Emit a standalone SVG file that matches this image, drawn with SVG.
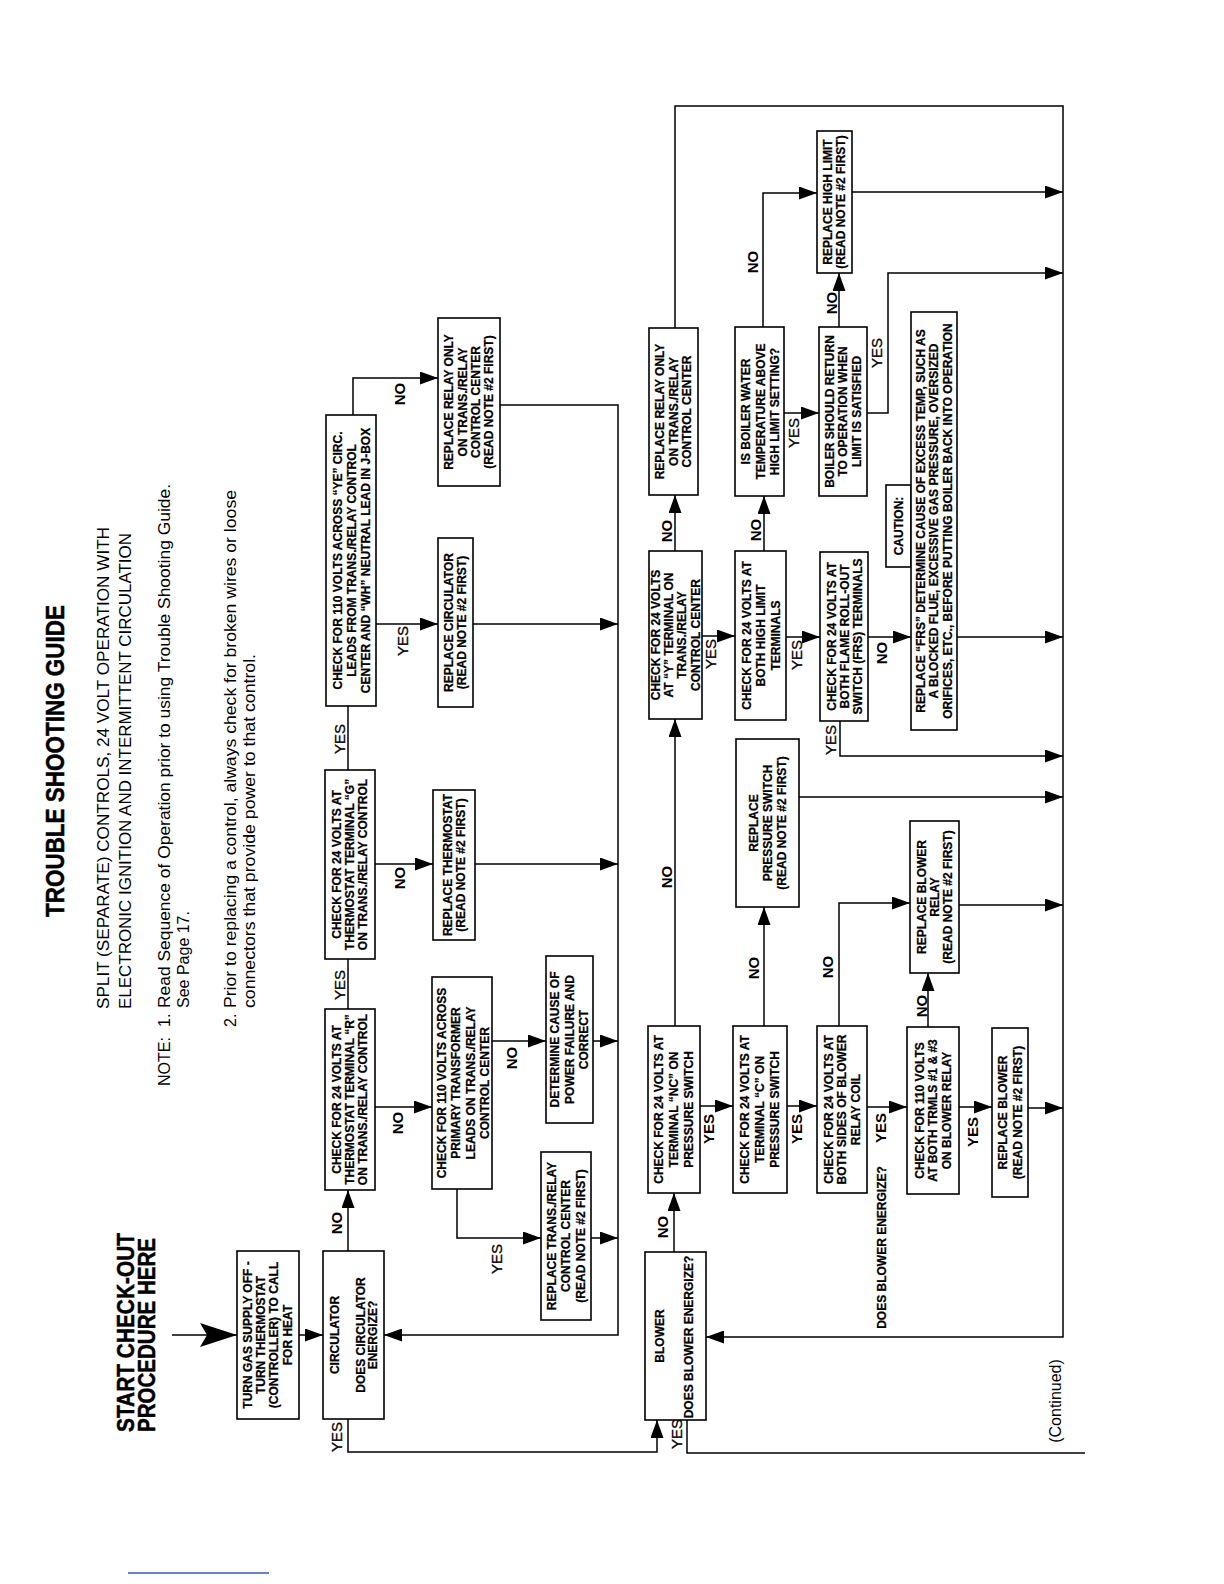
<svg xmlns="http://www.w3.org/2000/svg" width="1224" height="1584" viewBox="0 0 1224 1584">
<defs>
<style>
.bx{fill:#fff;stroke:#000;stroke-width:1.6}
.ln{fill:none;stroke:#000;stroke-width:1.5}
.ar{marker-end:url(#ah)}
text{font-family:"Liberation Sans",Arial,Helvetica,sans-serif;fill:#000}
.t{font-size:12px;font-weight:bold;text-anchor:middle;stroke:#000;stroke-width:0.25}
.y{font-size:15px;text-anchor:middle;stroke:#000;stroke-width:0.3}
.yb{font-size:15px;font-weight:bold;text-anchor:middle}
.n{font-size:15px;font-weight:bold;text-anchor:middle}
.h{font-size:16px}
.hb{font-weight:bold;stroke:#000;stroke-width:0.5}
</style>
<marker id="ah" markerUnits="userSpaceOnUse" markerWidth="18" markerHeight="13" refX="18" refY="6.5" orient="auto"><path d="M0,0L18,6.5L0,13z" fill="#000"/></marker>
<marker id="big" markerUnits="userSpaceOnUse" markerWidth="37" markerHeight="24" refX="37" refY="12" orient="auto"><path d="M0,0L37,12L0,24L7,12z" fill="#000"/></marker>
</defs>
<rect width="1224" height="1584" fill="#fff"/>

<g id="header">
<text class="hb" transform="translate(55,761) rotate(-90)" y="9.3" font-size="26" text-anchor="middle" textLength="312" lengthAdjust="spacingAndGlyphs">TROUBLE SHOOTING GUIDE</text>
<text class="h" transform="translate(103.5,1009) rotate(-90)" y="5.7" textLength="482" lengthAdjust="spacingAndGlyphs">SPLIT (SEPARATE) CONTROLS, 24 VOLT OPERATION WITH</text>
<text class="h" transform="translate(124.8,1009) rotate(-90)" y="5.7" textLength="476" lengthAdjust="spacingAndGlyphs">ELECTRONIC IGNITION AND INTERMITTENT CIRCULATION</text>
<text class="h" transform="translate(164,1086) rotate(-90)" y="5.7">NOTE:</text>
<text class="h" transform="translate(164,1027) rotate(-90)" y="5.7">1.</text>
<text class="h" transform="translate(164,1008) rotate(-90)" y="5.7" textLength="524" lengthAdjust="spacingAndGlyphs">Read Sequence of Operation prior to using Trouble Shooting Guide.</text>
<text class="h" transform="translate(183.5,1008) rotate(-90)" y="5.7">See Page 17.</text>
<text class="h" transform="translate(230,1027) rotate(-90)" y="5.7">2.</text>
<text class="h" transform="translate(230,1008) rotate(-90)" y="5.7" textLength="518" lengthAdjust="spacingAndGlyphs">Prior to replacing a control, always check for broken wires or loose</text>
<text class="h" transform="translate(249,1008) rotate(-90)" y="5.7" textLength="354" lengthAdjust="spacingAndGlyphs">connectors that provide power to that control.</text>
<text class="hb" transform="translate(134,1432) rotate(-90)" font-size="23" textLength="199" lengthAdjust="spacingAndGlyphs">START CHECK-OUT</text>
<text class="hb" transform="translate(155,1432) rotate(-90)" font-size="23" textLength="194" lengthAdjust="spacingAndGlyphs">PROCEDURE HERE</text>
<text transform="translate(1055,1401) rotate(-90)" y="5.7" font-size="16" text-anchor="middle">(Continued)</text>
<line x1="128" y1="1573" x2="269" y2="1573" stroke="#3355cc" stroke-width="1.5"/>
</g>

<g id="connectors" class="ln">
<path d="M172,1335H237" style="marker-end:url(#big)"/>
<path class="ar" d="M299,1335H323"/>
<path class="ar" d="M348,1419V1190"/>
<path class="ar" d="M348,1419V1452H657V1420"/>
<path d="M348,1009V959"/>
<path d="M348,770V706"/>
<path class="ar" d="M375,1107H432"/>
<path class="ar" d="M492,1041H546"/>
<path class="ar" d="M593,1041H618"/>
<path class="ar" d="M457,1189V1238H541"/>
<path class="ar" d="M591,1238H618"/>
<path class="ar" d="M375,864H433"/>
<path class="ar" d="M475,864H618"/>
<path class="ar" d="M376,624H438"/>
<path class="ar" d="M473,624H618"/>
<path class="ar" d="M353,415V378H438"/>
<path class="ar" d="M500,405H618V1335H384"/>
<path class="ar" d="M674,1420V1193"/>
<path d="M687,1420V1453H1085"/>
<path class="ar" d="M700,1106H733"/>
<path class="ar" d="M675,1026V719"/>
<path class="ar" d="M787,1106H817"/>
<path class="ar" d="M764,1026V907"/>
<path class="ar" d="M799,797H1063"/>
<path class="ar" d="M867,1107H907"/>
<path class="ar" d="M839,1026V903H910"/>
<path class="ar" d="M959,905H1063"/>
<path class="ar" d="M959,1107H992"/>
<path class="ar" d="M928,1027V973"/>
<path class="ar" d="M1028,1108H1063"/>
<path class="ar" d="M675,328V106H1063V1337H706"/>
<path class="ar" d="M675,551V495"/>
<path class="ar" d="M702,636H735"/>
<path class="ar" d="M764,551V496"/>
<path class="ar" d="M786,637H820"/>
<path class="ar" d="M868,637H911"/>
<path class="ar" d="M957,637H1063"/>
<path class="ar" d="M840,721V756H1063"/>
<path class="ar" d="M763,327V193H817"/>
<path class="ar" d="M852,192H1063"/>
<path class="ar" d="M784,413H819"/>
<path class="ar" d="M839,327V273"/>
<path class="ar" d="M867,413H888V273H1063"/>
</g>

<g id="labels">
<text class="n" transform="translate(337,1223) rotate(-90)" y="5.3">NO</text>
<text class="y" transform="translate(337,1437) rotate(-90)" y="5.3">YES</text>
<text class="y" transform="translate(340,985) rotate(-90)" y="5.3">YES</text>
<text class="y" transform="translate(340,739) rotate(-90)" y="5.3">YES</text>
<text class="n" transform="translate(398,1123) rotate(-90)" y="5.3">NO</text>
<text class="n" transform="translate(512,1058) rotate(-90)" y="5.3">NO</text>
<text class="y" transform="translate(497,1259) rotate(-90)" y="5.3">YES</text>
<text class="n" transform="translate(400,878) rotate(-90)" y="5.3">NO</text>
<text class="y" transform="translate(403,641) rotate(-90)" y="5.3">YES</text>
<text class="n" transform="translate(400,394) rotate(-90)" y="5.3">NO</text>
<text class="n" transform="translate(663,1227) rotate(-90)" y="5.3">NO</text>
<text class="y" transform="translate(677,1434) rotate(-90)" y="5.3">YES</text>
<text class="n" transform="translate(667,877) rotate(-90)" y="5.3">NO</text>
<text class="yb" transform="translate(709,1129) rotate(-90)" y="5.3">YES</text>
<text class="yb" transform="translate(797,1129) rotate(-90)" y="5.3">YES</text>
<text class="yb" transform="translate(881,1128) rotate(-90)" y="5.3">YES</text>
<text class="yb" transform="translate(973,1132) rotate(-90)" y="5.3">YES</text>
<text class="n" transform="translate(922,1006) rotate(-90)" y="5.3">NO</text>
<text class="n" transform="translate(828,967) rotate(-90)" y="5.3">NO</text>
<text class="n" transform="translate(754,968) rotate(-90)" y="5.3">NO</text>
<text class="n" transform="translate(667,531) rotate(-90)" y="5.3">NO</text>
<text class="n" transform="translate(756,530) rotate(-90)" y="5.3">NO</text>
<text class="y" transform="translate(711,654) rotate(-90)" y="5.3">YES</text>
<text class="y" transform="translate(797,655) rotate(-90)" y="5.3">YES</text>
<text class="n" transform="translate(882,653) rotate(-90)" y="5.3">NO</text>
<text class="y" transform="translate(831,740) rotate(-90)" y="5.3">YES</text>
<text class="n" transform="translate(753,262) rotate(-90)" y="5.3">NO</text>
<text class="y" transform="translate(794,433) rotate(-90)" y="5.3">YES</text>
<text class="n" transform="translate(832,303) rotate(-90)" y="5.3">NO</text>
<text class="y" transform="translate(877,353) rotate(-90)" y="5.3">YES</text>
<text class="t" transform="translate(882,1247.5) rotate(-90)" y="4.2">DOES BLOWER ENERGIZE?</text>
</g>

<g id="nodes">
<g id="n-turngas"><rect class="bx" x="237" y="1251" width="62" height="168"/>
<text class="t" font-size="10.5" transform="translate(268,1335) rotate(-90)"><tspan x="0" y="-16.2">TURN GAS SUPPLY OFF -</tspan><tspan x="0" dy="13.3">TURN THERMOSTAT</tspan><tspan x="0" dy="13.3">(CONTROLLER) TO CALL</tspan><tspan x="0" dy="13.3">FOR HEAT</tspan></text></g>

<g id="n-circulator"><rect class="bx" x="323" y="1251" width="61" height="168"/>
<text class="t" transform="translate(335,1335) rotate(-90)" y="4.2">CIRCULATOR</text>
<text class="t" transform="translate(367,1335) rotate(-90)"><tspan x="0" y="-1.8">DOES CIRCULATOR</tspan><tspan x="0" dy="12">ENERGIZE?</tspan></text></g>

<g id="n-check-r"><rect class="bx" x="325" y="1009" width="50" height="181"/>
<text class="t" transform="translate(350,1099.5) rotate(-90)"><tspan x="0" y="-8.8">CHECK FOR 24 VOLTS AT</tspan><tspan x="0" dy="13">THERMOSTAT TERMINAL “R”</tspan><tspan x="0" dy="13">ON TRANS./RELAY CONTROL</tspan></text></g>

<g id="n-check-primary"><rect class="bx" x="432" y="977" width="60" height="212"/>
<text class="t" transform="translate(463,1083) rotate(-90)"><tspan x="0" y="-17.5">CHECK FOR 110 VOLTS ACROSS</tspan><tspan x="0" dy="14.5">PRIMARY TRANSFORMER</tspan><tspan x="0" dy="14.5">LEADS ON TRANS./RELAY</tspan><tspan x="0" dy="14.5">CONTROL CENTER</tspan></text></g>

<g id="n-determine"><rect class="bx" x="546" y="956" width="47" height="167"/>
<text class="t" transform="translate(569.5,1039.5) rotate(-90)"><tspan x="0" y="-10.3">DETERMINE CAUSE OF</tspan><tspan x="0" dy="14.5">POWER FAILURE AND</tspan><tspan x="0" dy="14.5">CORRECT</tspan></text></g>

<g id="n-replace-trans"><rect class="bx" x="541" y="1152" width="50" height="168"/>
<text class="t" transform="translate(566,1236) rotate(-90)"><tspan x="0" y="-10.3">REPLACE TRANS./RELAY</tspan><tspan x="0" dy="14.5">CONTROL CENTER</tspan><tspan x="0" dy="14.5">(READ NOTE #2 FIRST)</tspan></text></g>

<g id="n-check-g"><rect class="bx" x="325" y="770" width="50" height="189"/>
<text class="t" transform="translate(350,864.5) rotate(-90)"><tspan x="0" y="-8.8">CHECK FOR 24 VOLTS AT</tspan><tspan x="0" dy="13">THERMOSTAT TERMINAL “G”</tspan><tspan x="0" dy="13">ON TRANS./RELAY CONTROL</tspan></text></g>

<g id="n-replace-thermostat"><rect class="bx" x="433" y="790" width="42" height="150"/>
<text class="t" transform="translate(454,865) rotate(-90)"><tspan x="0" y="-2.3">REPLACE THERMOSTAT</tspan><tspan x="0" dy="13">(READ NOTE #2 FIRST)</tspan></text></g>

<g id="n-check-ye"><rect class="bx" x="326" y="415" width="50" height="291"/>
<text class="t" transform="translate(352,560.5) rotate(-90)"><tspan x="0" y="-9.8">CHECK FOR 110 VOLTS ACROSS “YE” CIRC.</tspan><tspan x="0" dy="14">LEADS FROM TRANS./RELAY CONTROL</tspan><tspan x="0" dy="14">CENTER AND “WH” NEUTRAL LEAD IN J-BOX</tspan></text></g>

<g id="n-replace-circulator"><rect class="bx" x="438" y="538" width="35" height="169"/>
<text class="t" transform="translate(455.5,622.5) rotate(-90)"><tspan x="0" y="-2.3">REPLACE CIRCULATOR</tspan><tspan x="0" dy="13">(READ NOTE #2 FIRST)</tspan></text></g>

<g id="n-replace-relay-1"><rect class="bx" x="438" y="318" width="62" height="168"/>
<text class="t" transform="translate(469,402) rotate(-90)"><tspan x="0" y="-15.9">REPLACE RELAY ONLY</tspan><tspan x="0" dy="13.4">ON TRANS./RELAY</tspan><tspan x="0" dy="13.4">CONTROL CENTER</tspan><tspan x="0" dy="13.4">(READ NOTE #2 FIRST)</tspan></text></g>

<g id="n-blower"><rect class="bx" x="645" y="1252" width="61" height="168"/>
<text class="t" transform="translate(660,1336) rotate(-90)" y="4.2">BLOWER</text>
<text class="t" font-size="11.5" transform="translate(689,1337) rotate(-90)" y="4">DOES BLOWER ENERGIZE?</text></g>

<g id="n-check-nc"><rect class="bx" x="648" y="1026" width="52" height="167"/>
<text class="t" transform="translate(674,1109.5) rotate(-90)"><tspan x="0" y="-10.8">CHECK FOR 24 VOLTS AT</tspan><tspan x="0" dy="15">TERMINAL “NC” ON</tspan><tspan x="0" dy="15">PRESSURE SWITCH</tspan></text></g>

<g id="n-check-c"><rect class="bx" x="733" y="1026" width="54" height="167"/>
<text class="t" transform="translate(760,1109.5) rotate(-90)"><tspan x="0" y="-10.8">CHECK FOR 24 VOLTS AT</tspan><tspan x="0" dy="15">TERMINAL “C” ON</tspan><tspan x="0" dy="15">PRESSURE SWITCH</tspan></text></g>

<g id="n-check-coil"><rect class="bx" x="817" y="1026" width="50" height="167"/>
<text class="t" transform="translate(842,1109.5) rotate(-90)"><tspan x="0" y="-9.3">CHECK FOR 24 VOLTS AT</tspan><tspan x="0" dy="13.5">BOTH SIDES OF BLOWER</tspan><tspan x="0" dy="13.5">RELAY COIL</tspan></text></g>

<g id="n-check-trmls"><rect class="bx" x="907" y="1027" width="52" height="167"/>
<text class="t" transform="translate(933,1110.5) rotate(-90)"><tspan x="0" y="-9.3">CHECK FOR 110 VOLTS</tspan><tspan x="0" dy="13.5">AT BOTH TRMLS #1 &amp; #3</tspan><tspan x="0" dy="13.5">ON BLOWER RELAY</tspan></text></g>

<g id="n-replace-blower"><rect class="bx" x="992" y="1028" width="36" height="169"/>
<text class="t" transform="translate(1010,1112.5) rotate(-90)"><tspan x="0" y="-3.3">REPLACE BLOWER</tspan><tspan x="0" dy="15">(READ NOTE #2 FIRST)</tspan></text></g>

<g id="n-check-y"><rect class="bx" x="649" y="551" width="53" height="168"/>
<text class="t" transform="translate(675.5,635) rotate(-90)"><tspan x="0" y="-15.9">CHECK FOR 24 VOLTS</tspan><tspan x="0" dy="13.4">AT “Y” TERMINAL ON</tspan><tspan x="0" dy="13.4">TRANS./RELAY</tspan><tspan x="0" dy="13.4">CONTROL CENTER</tspan></text></g>

<g id="n-check-highlimit"><rect class="bx" x="735" y="551" width="51" height="169"/>
<text class="t" transform="translate(761,635.5) rotate(-90)"><tspan x="0" y="-10.3">CHECK FOR 24 VOLTS AT</tspan><tspan x="0" dy="14.5">BOTH HIGH LIMIT</tspan><tspan x="0" dy="14.5">TERMINALS</tspan></text></g>

<g id="n-check-frs"><rect class="bx" x="820" y="552" width="48" height="169"/>
<text class="t" transform="translate(844.5,636.5) rotate(-90)"><tspan x="0" y="-8.8">CHECK FOR 24 VOLTS AT</tspan><tspan x="0" dy="13">BOTH FLAME ROLL-OUT</tspan><tspan x="0" dy="13">SWITCH (FRS) TERMINALS</tspan></text></g>

<g id="n-replace-pressure"><rect class="bx" x="736" y="739" width="63" height="168"/>
<text class="t" font-size="13" transform="translate(767.5,823) rotate(-90)"><tspan x="0" y="-9.5">REPLACE</tspan><tspan x="0" dy="14">PRESSURE SWITCH</tspan><tspan x="0" dy="14">(READ NOTE #2 FIRST)</tspan></text></g>

<g id="n-replace-blower-relay"><rect class="bx" x="910" y="821" width="49" height="152"/>
<text class="t" transform="translate(934.5,897) rotate(-90)"><tspan x="0" y="-8.8">REPLACE BLOWER</tspan><tspan x="0" dy="13">RELAY</tspan><tspan x="0" dy="13">(READ NOTE #2 FIRST)</tspan></text></g>

<g id="n-replace-relay-2"><rect class="bx" x="649" y="328" width="49" height="167"/>
<text class="t" transform="translate(673.5,411.5) rotate(-90)"><tspan x="0" y="-9.3">REPLACE RELAY ONLY</tspan><tspan x="0" dy="13.5">ON TRANS./RELAY</tspan><tspan x="0" dy="13.5">CONTROL CENTER</tspan></text></g>

<g id="n-boiler-water"><rect class="bx" x="735" y="327" width="49" height="169"/>
<text class="t" transform="translate(760.5,411.5) rotate(-90)"><tspan x="0" y="-10.3">IS BOILER WATER</tspan><tspan x="0" dy="14.5">TEMPERATURE ABOVE</tspan><tspan x="0" dy="14.5">HIGH LIMIT SETTING?</tspan></text></g>

<g id="n-boiler-return"><rect class="bx" x="819" y="327" width="48" height="169"/>
<text class="t" transform="translate(843,411.5) rotate(-90)"><tspan x="0" y="-9.3">BOILER SHOULD RETURN</tspan><tspan x="0" dy="13.5">TO OPERATION WHEN</tspan><tspan x="0" dy="13.5">LIMIT IS SATISFIED</tspan></text></g>

<g id="n-replace-highlimit"><rect class="bx" x="817" y="131" width="35" height="142"/>
<text class="t" transform="translate(834.5,202) rotate(-90)"><tspan x="0" y="-2.3">REPLACE HIGH LIMIT</tspan><tspan x="0" dy="13">(READ NOTE #2 FIRST)</tspan></text></g>

<g id="n-caution"><rect class="bx" x="886" y="485" width="25" height="82"/>
<text class="t" transform="translate(898.5,526) rotate(-90)" y="4.2">CAUTION:</text></g>

<g id="n-replace-frs"><rect class="bx" x="911" y="312" width="46" height="418"/>
<text class="t" transform="translate(934,521) rotate(-90)"><tspan x="0" y="-9.3">REPLACE “FRS” DETERMINE CAUSE OF EXCESS TEMP, SUCH AS</tspan><tspan x="0" dy="13.5">A BLOCKED FLUE, EXCESSIVE GAS PRESSURE, OVERSIZED</tspan><tspan x="0" dy="13.5">ORIFICES, ETC., BEFORE PUTTING BOILER BACK INTO OPERATION</tspan></text></g>
</g>
</svg>
